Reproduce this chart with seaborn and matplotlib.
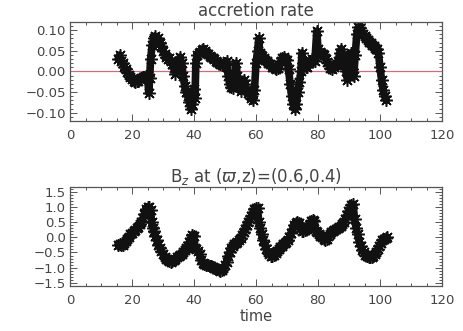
import matplotlib
matplotlib.use('Agg')
import matplotlib.pyplot as plt
from matplotlib.ticker import MultipleLocator
import pandas as pd
import seaborn as sns

# accretion rate vs time
acc_time = [15.5, 16.0, 16.5, 17.0, 17.5, 18.0, 18.5, 19.0, 19.5, 20.0, 20.5, 21.0, 21.5, 22.0, 22.5,
            23.0, 23.5, 24.0, 24.5, 25.0, 25.4, 25.7, 26.0, 26.5, 27.0, 27.5, 28.0, 28.5, 29.0, 29.5,
            30.0, 30.5, 31.0, 31.5, 32.0, 32.5, 33.0, 33.5, 34.0, 34.5, 35.0, 35.5, 36.0, 36.5, 37.0,
            37.5, 38.0, 38.5, 39.0, 39.5, 40.0, 40.3, 40.6, 41.0, 41.5, 42.0, 42.5, 43.0, 43.5, 44.0,
            44.5, 45.0, 45.5, 46.0, 46.5, 47.0, 47.5, 48.0, 48.5, 49.0, 49.5, 50.0, 50.5, 51.0, 51.5,
            52.0, 52.5, 53.0, 53.5, 54.0, 54.5, 55.0, 55.5, 56.0, 56.5, 57.0, 57.5, 58.0, 58.5, 59.0,
            59.5, 60.0, 60.5, 60.9, 61.2, 61.5, 62.0, 62.5, 63.0, 63.5, 64.0, 64.5, 65.0, 65.5, 66.0,
            66.5, 67.0, 67.5, 68.0, 68.5, 69.0, 69.5, 70.0, 70.5, 71.0, 71.5, 72.0, 72.5, 73.0, 73.5,
            74.0, 74.5, 74.8, 75.2, 75.5, 76.0, 76.5, 77.0, 77.5, 78.0, 78.5, 79.0, 79.6, 80.0, 80.5,
            81.0, 81.5, 82.0, 82.5, 83.0, 83.5, 84.0, 84.5, 85.0, 85.5, 86.0, 86.5, 87.0, 87.5, 88.0,
            88.5, 89.0, 89.5, 90.0, 90.5, 91.0, 91.5, 92.0, 92.5, 93.0, 93.5, 94.0, 94.5, 95.0, 95.5,
            96.0, 96.5, 97.0, 97.5, 98.0, 98.5, 99.0, 99.5, 100.0, 100.5, 101.0, 101.5, 102.0]
acc_rate = [0.030, 0.040, 0.025, 0.020, 0.012, 0.005, -0.002, -0.008, -0.013, -0.018, -0.022, -0.025,
            -0.024, -0.022, -0.018, -0.015, -0.014, -0.013, -0.012, -0.011, -0.052, -0.015, 0.030,
            0.065, 0.080, 0.085, 0.078, 0.082, 0.070, 0.062, 0.050, 0.042, 0.035, 0.030, 0.032, 0.026,
            0.018, 0.008, -0.005, 0.010, 0.025, 0.035, 0.020, -0.010, -0.035, -0.050, -0.060, -0.075,
            -0.092, -0.080, -0.042, -0.065, 0.020, 0.040, 0.045, 0.048, 0.052, 0.055, 0.050, 0.045,
            0.042, 0.038, 0.035, 0.032, 0.030, 0.025, 0.022, 0.020, 0.018, 0.016, 0.015, 0.020, 0.025,
            -0.010, -0.030, -0.038, -0.040, -0.020, 0.020, -0.010, -0.035, -0.048, -0.030, -0.020,
            -0.030, -0.045, -0.052, -0.058, -0.065, -0.070, -0.045, 0.020, 0.050, 0.080, 0.045, 0.040,
            0.038, 0.032, 0.028, 0.025, 0.020, 0.018, 0.012, 0.010, 0.008, 0.005, 0.008, 0.015, 0.025,
            0.032, 0.035, 0.030, 0.028, 0.005, -0.030, -0.060, -0.080, -0.092, -0.080, -0.050, -0.025,
            0.000, 0.045, 0.020, 0.015, 0.012, 0.010, 0.020, 0.025, 0.030, 0.028, 0.025, 0.098, 0.055,
            0.048, 0.045, 0.042, 0.040, 0.030, 0.022, 0.015, 0.008, 0.005, 0.010, 0.015, 0.018, 0.025,
            0.045, 0.055, 0.040, 0.015, 0.000, -0.020, -0.010, 0.045, 0.005, -0.012, 0.040, 0.090,
            0.108, 0.105, 0.098, 0.092, 0.085, 0.080, 0.076, 0.072, 0.068, 0.065, 0.062, 0.058, 0.055,
            0.045, 0.010, -0.020, -0.045, -0.060, -0.070]

# B_z at (varpi, z) = (0.6, 0.4) vs time (bottom panel)
bz_time = [15.5, 16.0, 16.5, 17.0, 17.5, 18.0, 18.5, 19.0, 19.5, 20.0, 20.5, 21.0, 21.5, 22.0, 22.5,
           23.0, 23.5, 24.0, 24.5, 25.0, 25.5, 26.0, 26.3, 26.8, 27.0, 27.5, 28.0, 28.5, 29.0, 29.5,
           30.0, 30.5, 31.0, 31.5, 32.0, 32.5, 33.0, 33.5, 34.0, 34.5, 35.0, 35.5, 36.0, 36.5, 37.0,
           37.5, 38.0, 38.5, 39.0, 39.5, 40.0, 40.3, 40.8, 41.3, 41.8, 42.3, 42.8, 43.3, 44.0, 44.5,
           45.0, 45.5, 46.0, 46.5, 47.0, 47.5, 48.0, 48.5, 49.0, 49.5, 50.0, 50.5, 51.0, 51.5, 52.0,
           52.5, 53.0, 53.5, 54.0, 54.5, 55.0, 55.5, 56.0, 56.5, 57.0, 57.5, 58.0, 58.5, 59.0, 59.5,
           60.0, 60.5, 60.9, 61.3, 61.8, 62.3, 62.8, 63.3, 63.8, 64.3, 64.8, 65.3, 65.8, 66.3, 66.8,
           67.3, 67.8, 68.3, 68.8, 69.3, 69.8, 70.3, 70.8, 71.3, 71.8, 72.3, 72.8, 73.3, 73.8, 74.3,
           74.8, 75.3, 75.8, 76.3, 76.8, 77.3, 77.8, 78.3, 78.8, 79.3, 79.8, 80.3, 80.8, 81.3, 81.8,
           82.3, 82.8, 83.3, 83.8, 84.3, 84.8, 85.3, 85.8, 86.3, 86.8, 87.3, 87.8, 88.3, 88.8, 89.3,
           89.8, 90.3, 90.8, 91.3, 91.8, 92.3, 92.8, 93.3, 93.8, 94.3, 94.8, 95.3, 95.8, 96.3, 96.8,
           97.3, 97.8, 98.3, 98.8, 99.3, 99.8, 100.3, 100.8, 101.3, 101.8, 102.3]
bz_value = [-0.25, -0.22, -0.25, -0.24, -0.20, -0.12, -0.05, 0.02, 0.10, 0.15, 0.20, 0.25, 0.30, 0.35,
            0.42, 0.50, 0.62, 0.78, 0.92, 1.00, 0.98, 0.90, 0.50, 0.30, 0.20, 0.05, -0.10, -0.25, -0.35,
            -0.45, -0.55, -0.65, -0.72, -0.76, -0.78, -0.80, -0.78, -0.75, -0.70, -0.66, -0.62, -0.58,
            -0.55, -0.50, -0.42, -0.35, -0.28, -0.15, -0.02, 0.08, 0.05, -0.35, -0.40, -0.45, -0.55,
            -0.75, -0.85, -0.88, -0.90, -0.92, -0.94, -0.95, -0.98, -1.00, -1.03, -1.05, -1.08, -1.10,
            -1.08, -1.02, -0.92, -0.80, -0.62, -0.48, -0.35, -0.28, -0.22, -0.18, -0.14, -0.10, -0.02,
            0.08, 0.18, 0.28, 0.40, 0.50, 0.60, 0.70, 0.82, 0.92, 0.95, 0.95, 0.50, 0.30, 0.10, -0.10,
            -0.25, -0.38, -0.48, -0.55, -0.60, -0.62, -0.58, -0.52, -0.45, -0.38, -0.33, -0.28, -0.22,
            -0.18, -0.15, -0.10, 0.00, 0.15, 0.28, 0.40, 0.48, 0.50, 0.48, 0.30, 0.22, 0.22, 0.25, 0.28,
            0.35, 0.45, 0.52, 0.58, 0.55, 0.22, 0.18, 0.12, 0.05, 0.00, -0.05, -0.08, -0.05, 0.05, 0.12,
            0.18, 0.22, 0.25, 0.28, 0.30, 0.34, 0.38, 0.42, 0.50, 0.60, 0.72, 0.85, 0.95, 1.05, 1.08,
            0.60, 0.30, 0.10, -0.15, -0.30, -0.42, -0.50, -0.58, -0.62, -0.65, -0.66, -0.65, -0.60,
            -0.55, -0.48, -0.38, -0.28, -0.18, -0.10, -0.05, -0.02, 0.00]

x_ticks = [0, 20, 40, 60, 80, 100, 120]
acc_yticks = [-0.10, -0.05, 0.00, 0.05, 0.10]
bz_yticks = [-1.5, -1.0, -0.5, 0.0, 0.5, 1.0, 1.5]

sns.set_style('ticks')
plt.rcParams['font.family'] = ['DejaVu Sans']
plt.rcParams['mathtext.fontset'] = 'dejavusans'

TXT = '#444444'
FRAME = '#555555'
STAR = (8, 2, 0)

fig = plt.figure(figsize=(4.63, 3.31), dpi=100)
ax1 = fig.add_axes([70 / 463, 1 - 121 / 331, 372 / 463, 99 / 331])
ax2 = fig.add_axes([70 / 463, 1 - 286 / 331, 372 / 463, 99 / 331])

df_acc = pd.DataFrame({'time': acc_time, 'rate': acc_rate})
df_bz = pd.DataFrame({'time': bz_time, 'bz': bz_value})

ax1.axhline(0.0, color='#c8707e', linewidth=0.9, zorder=1)
for ax, df, ycol in [(ax1, df_acc, 'rate'), (ax2, df_bz, 'bz')]:
    sns.lineplot(data=df, x='time', y=ycol, ax=ax, color='#111111', linewidth=5.5,
                 marker=STAR, markersize=9, markeredgewidth=1.1, markeredgecolor='#111111',
                 estimator=None, sort=False, zorder=2)

for ax, yt, ylim, ymin, fmt in [(ax1, acc_yticks, (-0.12, 0.12), 0.01, '{:.2f}'),
                                (ax2, bz_yticks, (-1.6, 1.65), 0.1, '{:.1f}')]:
    ax.set_xlim(0, 120)
    ax.set_ylim(*ylim)
    ax.set_xticks(x_ticks)
    ax.set_xticklabels([str(t) for t in x_ticks])
    ax.set_yticks(yt)
    ax.set_yticklabels([fmt.format(v).replace('-', '\u2212') for v in yt])
    ax.xaxis.set_minor_locator(MultipleLocator(5))
    ax.yaxis.set_minor_locator(MultipleLocator(ymin))
    ax.tick_params(which='both', direction='in', top=True, right=True, colors=FRAME,
                   labelcolor=TXT, labelsize=9.5, width=0.7)
    ax.tick_params(axis='x', pad=6)
    ax.tick_params(axis='y', pad=3)
    ax.tick_params(which='major', length=5)
    ax.tick_params(which='minor', length=2.5)
    for s in ax.spines.values():
        s.set_visible(True)
        s.set_color(FRAME)
        s.set_linewidth(0.9)
    ax.set_xlabel('')
    ax.set_ylabel('')

ax1.set_title('accretion rate', fontsize=12, color=TXT, pad=4)
ax2.set_title(r'B$_z$ at ($\varpi$,z)=(0.6,0.4)', fontsize=12, color=TXT, pad=3)
ax2.set_xlabel('time', fontsize=10.5, color=TXT, labelpad=1)

fig.savefig('out.png', dpi=100)
